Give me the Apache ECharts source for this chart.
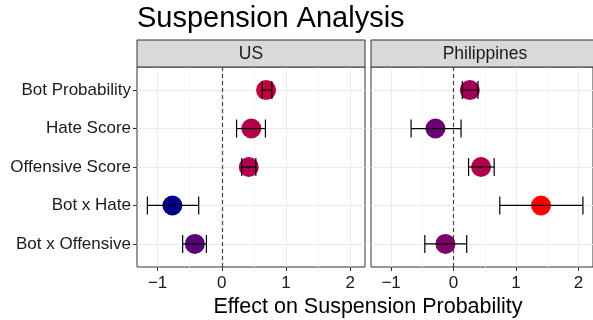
<!DOCTYPE html>
<html>
<head>
<meta charset="utf-8">
<script src="https://cdn.jsdelivr.net/npm/echarts@6/dist/echarts.min.js"></script>
<style>html,body{margin:0;padding:0;background:#fff;}#c{width:593px;height:320px;}</style>
</head>
<body>
<div id="c"></div>
<script>
const categories = ['Bot Probability', 'Hate Score', 'Offensive Score', 'Bot x Hate', 'Bot x Offensive'];
const panels = ['US', 'Philippines'];
const usEstimate = [0.69, 0.46, 0.42, -0.77, -0.42];
const usLower    = [0.63, 0.23, 0.31, -1.16, -0.61];
const usUpper    = [0.78, 0.68, 0.53, -0.36, -0.24];
const phEstimate = [0.26, -0.29, 0.44, 1.40, -0.13];
const phLower    = [0.14, -0.68, 0.24, 0.74, -0.46];
const phUpper    = [0.39, 0.12, 0.65, 2.07, 0.21];
const xTicks = [-1, 0, 1, 2];
const xMinor = [-0.5, 0.5, 1.5];
const title = 'Suspension Analysis';
const xTitle = 'Effect on Suspension Probability';

const FONT = 'Liberation Sans, Arial, Helvetica, sans-serif';
const chart = echarts.init(document.getElementById('c'), null, {renderer: 'canvas'});

const allEst = usEstimate.concat(phEstimate);
const eMin = Math.min.apply(null, allEst), eMax = Math.max.apply(null, allEst);
const allX = usLower.concat(usUpper, phLower, phUpper);
const dMin = Math.min.apply(null, allX), dMax = Math.max.apply(null, allX);
const pad = (dMax - dMin) * 0.05;
const xMin = dMin - pad, xMax = dMax + pad;
const yVals = categories.map((c, i) => i + 1);

const gridDefs = [
  {left: 137, top: 67, width: 228, height: 200},
  {left: 371, top: 67, width: 228, height: 200}
];

const grids = gridDefs.map(g => Object.assign({show: true, borderColor: '#333333', borderWidth: 1, backgroundColor: '#fff', containLabel: false}, g));

const xAxes = [], yAxes = [];
gridDefs.forEach((g, gi) => {
  xAxes.push({
    type: 'value', gridIndex: gi, min: xMin, max: xMax,
    axisLine: {show: false, onZero: false},
    axisTick: {show: true, length: 4, lineStyle: {color: '#333'}, customValues: xTicks},
    axisLabel: {show: true, customValues: xTicks, margin: 8, color: '#1a1a1a', fontSize: 17, fontFamily: FONT,
      formatter: v => (v < 0 ? '\u2212' + Math.abs(v) : String(v))},
    splitLine: {show: true, lineStyle: {color: '#ebebeb', width: 1}}
  });
  yAxes.push({
    type: 'value', gridIndex: gi, min: 0.4, max: 5.6, inverse: true,
    axisLine: {show: false, onZero: false},
    axisTick: {show: gi === 0, length: 4, lineStyle: {color: '#333'}, customValues: yVals},
    axisLabel: {show: gi === 0, customValues: yVals, margin: 6, color: '#1a1a1a', fontSize: 17, fontFamily: FONT,
      formatter: v => categories[Math.round(v) - 1] || ''},
    splitLine: {show: true, lineStyle: {color: '#ebebeb', width: 1}}
  });
});
gridDefs.forEach((g, gi) => {
  xAxes.push({
    type: 'value', gridIndex: gi, min: xMin, max: xMax,
    axisLine: {show: false, onZero: false}, axisTick: {show: false, customValues: xMinor},
    axisLabel: {show: false, customValues: xMinor},
    splitLine: {show: true, lineStyle: {color: '#f4f4f4', width: 1}}
  });
});

const sets = [
  {est: usEstimate, lo: usLower, hi: usUpper},
  {est: phEstimate, lo: phLower, hi: phUpper}
];

const series = [];
sets.forEach((s, gi) => {
  series.push({
    type: 'scatter', xAxisIndex: gi, yAxisIndex: gi, symbolSize: 20, z: 3,
    itemStyle: {opacity: 1},
    data: s.est.map((v, i) => [v, i + 1]),
    markLine: {
      silent: true, symbol: 'none', label: {show: false},
      lineStyle: {type: [4, 3], color: '#444', width: 1.2, opacity: 1},
      data: [{xAxis: 0}], z: 2
    }
  });
});
sets.forEach((s, gi) => {
  series.push({
    type: 'custom', xAxisIndex: gi, yAxisIndex: gi, z: 4,
    data: s.lo.map((v, i) => [v, s.hi[i], i + 1]),
    renderItem: function (params, api) {
      const p1 = api.coord([api.value(0), api.value(2)]);
      const p2 = api.coord([api.value(1), api.value(2)]);
      const h = 9;
      const st = {stroke: '#000', lineWidth: 1.2};
      return {type: 'group', children: [
        {type: 'line', shape: {x1: p1[0], y1: p1[1], x2: p2[0], y2: p2[1]}, style: st},
        {type: 'line', shape: {x1: p1[0], y1: p1[1] - h, x2: p1[0], y2: p1[1] + h}, style: st},
        {type: 'line', shape: {x1: p2[0], y1: p2[1] - h, x2: p2[0], y2: p2[1] + h}, style: st}
      ]};
    }
  });
});

const graphics = [];
gridDefs.forEach((g, gi) => {
  graphics.push({type: 'rect', shape: {x: g.left, y: 40, width: g.width, height: 27},
    style: {fill: '#d9d9d9', stroke: '#333333', lineWidth: 1}, z: 10});
  graphics.push({type: 'text', x: g.left + g.width / 2, y: 54,
    style: {text: panels[gi], fill: '#1a1a1a', font: '17.5px ' + FONT, textAlign: 'center', textVerticalAlign: 'middle'}, z: 11});
});
graphics.push({type: 'text', x: 368, y: 307,
  style: {text: xTitle, fill: '#000', font: '21.5px ' + FONT, textAlign: 'center', textVerticalAlign: 'middle'}});
graphics.push({type: 'text', x: 137, y: 19,
  style: {text: title, fill: '#000', font: '29px ' + FONT, textAlign: 'left', textVerticalAlign: 'middle'}});

chart.setOption({
  animation: false,
  backgroundColor: '#fff',
  grid: grids,
  xAxis: xAxes,
  yAxis: yAxes,
  visualMap: {
    show: false, type: 'continuous', dimension: 0, seriesIndex: [0, 1],
    min: eMin, max: eMax,
    inRange: {color: ['#00008B', '#4F007D', '#71006F', '#8D0061', '#A50053', '#BD0045', '#D30035', '#E90022', '#FF0000'], opacity: 1}
  },
  series: series,
  graphic: graphics
});
</script>
</body>
</html>
